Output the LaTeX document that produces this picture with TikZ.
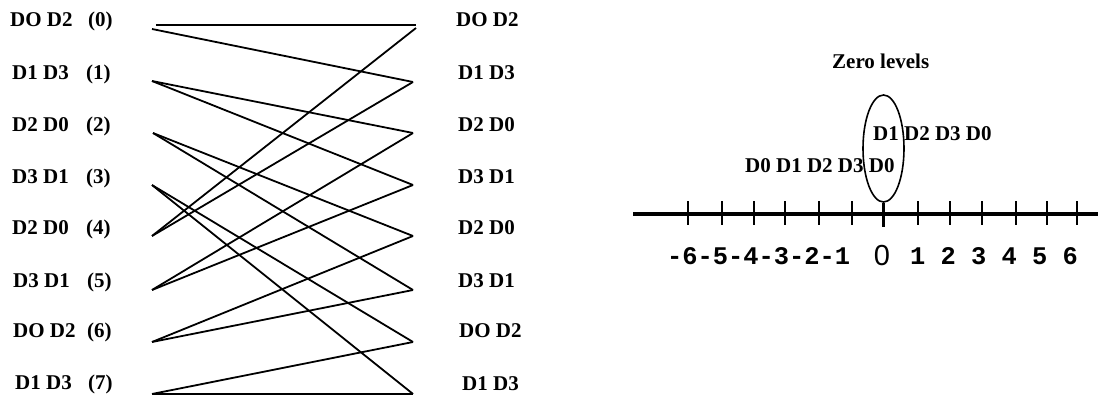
\documentclass[tikz,border=0pt]{standalone}
\usepackage{fontspec}
\setmainfont{Liberation Serif}
\newfontfamily\monof{Liberation Mono}
\newfontfamily\sansf{Liberation Sans}
\usetikzlibrary{shapes.geometric}
\tikzset{
  lbl/.style={anchor=base west, inner sep=0pt, font=\fontsize{21}{24}\selectfont\bfseries},
  wire/.style={line width=1.8pt},
  tickmark/.style={line width=2pt},
  axis/.style={line width=3.2pt},
  numlbl/.style={anchor=base west, inner sep=0pt, font=\fontsize{25.4}{28}\selectfont\monof\bfseries},
  zerolbl/.style={anchor=base, inner sep=0pt, font=\fontsize{29}{31}\selectfont\sansf}
}
\begin{document}
\begin{tikzpicture}[x=1pt,y=-1pt]
\useasboundingbox (0,0) rectangle (1098,396);
% left labels
\node[lbl] (ln0) at (10,27) {DO D2};  \node[lbl] (li0) at (88,27) {(0)};
\node[lbl] (ln1) at (12,80) {D1 D3};  \node[lbl] (li1) at (86,80) {(1)};
\node[lbl] (ln2) at (12,131) {D2 D0}; \node[lbl] (li2) at (86,131) {(2)};
\node[lbl] (ln3) at (12,183) {D3 D1}; \node[lbl] (li3) at (86,183) {(3)};
\node[lbl] (ln4) at (12,234) {D2 D0}; \node[lbl] (li4) at (86,234) {(4)};
\node[lbl] (ln5) at (13,287) {D3 D1}; \node[lbl] (li5) at (87,287) {(5)};
\node[lbl] (ln6) at (13,337) {DO D2}; \node[lbl] (li6) at (87,337) {(6)};
\node[lbl] (ln7) at (15,389) {D1 D3}; \node[lbl] (li7) at (88,389) {(7)};
% right labels
\node[lbl] (rn0) at (456,27) {DO D2};
\node[lbl] (rn1) at (458,80) {D1 D3};
\node[lbl] (rn2) at (458,131) {D2 D0};
\node[lbl] (rn3) at (458,183) {D3 D1};
\node[lbl] (rn4) at (458,234) {D2 D0};
\node[lbl] (rn5) at (458,287) {D3 D1};
\node[lbl] (rn6) at (459,337) {DO D2};
\node[lbl] (rn7) at (462,390) {D1 D3};
% wire end points
\coordinate (L0t) at (156,25); \coordinate (R0t) at (416,25);
\coordinate (L0) at (152,29); \coordinate (R0) at (416,28);
\coordinate (L1) at (152,81); \coordinate (R1) at (413,82);
\coordinate (L2) at (153,133); \coordinate (R2) at (413,133);
\coordinate (L3) at (152,185); \coordinate (R3) at (413,185);
\coordinate (L4) at (152,236); \coordinate (R4) at (413,236);
\coordinate (L5) at (152,290); \coordinate (R5) at (413,290);
\coordinate (L6) at (152,342); \coordinate (R6) at (413,342);
\coordinate (L7) at (152,394); \coordinate (R7) at (413,394);
\draw[wire] (L0t) -- (R0t);
\draw[wire] (L0) -- (R1);
\draw[wire] (L1) -- (R2);
\draw[wire] (L1) -- (R3);
\draw[wire] (L2) -- (R4);
\draw[wire] (L2) -- (R5);
\draw[wire] (L3) -- (R6);
\draw[wire] (L3) -- (R7);
\draw[wire] (L4) -- (R0);
\draw[wire] (L4) -- (R1);
\draw[wire] (L5) -- (R2);
\draw[wire] (L5) -- (R3);
\draw[wire] (L6) -- (R4);
\draw[wire] (L6) -- (R5);
\draw[wire] (L7) -- (R6);
\draw[wire] (L7) -- (R7);
% right part
\node[lbl] (zl) at (832,69) {Zero levels};
\node[lbl] (lvA) at (873,140) {D1 D2 D3 D0};
\node[lbl] (lvB) at (745,172) {D0 D1 D2 D3 D0};
\node[draw, ellipse, line width=1.6pt, inner sep=0pt, minimum width=41pt, minimum height=107pt] (ell) at (883.5,148.5) {};
\coordinate (axA) at (633,214); \coordinate (axB) at (1098,214);
\draw[axis] (axA) -- (axB);
\foreach \x in {688,722,754,785,819,852,918,950,982,1016,1047,1077}
  \draw[tickmark] (\x,201) -- (\x,225);
\coordinate (z0) at (883.5,227);
\draw[line width=3pt] (ell.south) -- (z0);
\node[numlbl] (neg) at (667,264) {-6-5-4-3-2-1};
\node[zerolbl] (zero) at (882,265) {0};
\node[numlbl] (pos) at (910,264) {1 2 3 4 5 6};
\end{tikzpicture}
\end{document}
